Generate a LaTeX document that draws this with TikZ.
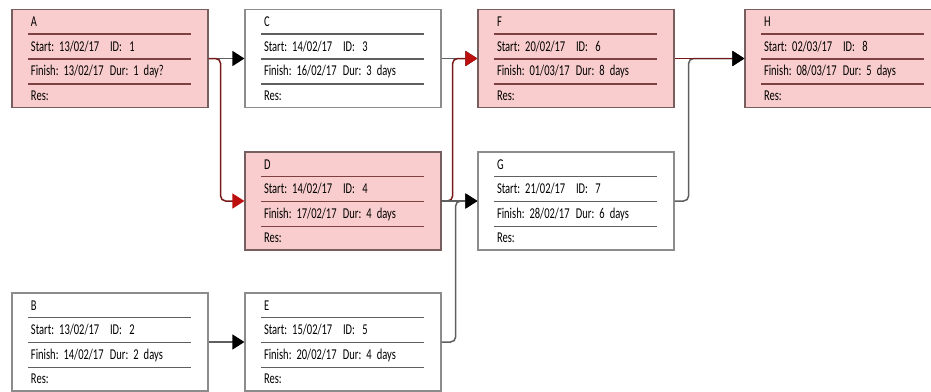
\documentclass[tikz,border=0pt]{standalone}
\usepackage{fontspec}
\usepackage{tikz}
\usetikzlibrary{arrows.meta}
\newfontfamily\taskfont{Carlito}[FakeStretch=0.7]
\definecolor{critfill}{RGB}{249,205,205}
\definecolor{critborder}{RGB}{120,95,95}
\definecolor{critdiv}{RGB}{125,65,65}
\definecolor{plainborder}{RGB}{140,140,140}
\definecolor{plaindiv}{RGB}{95,95,95}
\definecolor{critline}{RGB}{120,25,25}
\definecolor{critred}{RGB}{190,15,15}
\definecolor{linegray}{RGB}{95,95,95}
\newcommand{\taskinfo}[5]{%
  \renewcommand{\arraystretch}{1.633}%
  \begin{tabular}{@{}p{79pt}@{}l@{}}
  #1 & \\
  Start: #2 & ID:\enspace #3\\
  Finish: #4 & Dur: #5\\
  Res: &
  \end{tabular}}
\tikzstyle{crittask} = [rectangle, minimum width=196pt, minimum height=98pt, text width=158pt, inner xsep=19pt, inner ysep=0pt, draw=critborder, line width=1.2pt, fill=critfill, font=\taskfont\fontsize{15}{15}\selectfont\frenchspacing]
\tikzstyle{task} = [crittask, draw=plainborder, fill=white]
\tikzstyle{divider} = [line width=1.4pt]
\tikzstyle{arrow} = [line width=1.5pt, draw=linegray, rounded corners=5pt, -{Triangle[length=12pt,width=15pt,color=black]}]
\tikzstyle{critarrow} = [arrow, draw=critline, -{Triangle[length=12pt,width=15pt,color=critred]}]

\begin{document}
\begin{tikzpicture}[x=1pt, y=1pt, node distance=233pt]
\path [use as bounding box, clip] (-110,58.5) rectangle (821,-332.5);

% Tasks
\node (A) [crittask] {\taskinfo{A}{13/02/17}{1}{13/02/17}{1 day?}};
\node (C) [task, right of=A] {\taskinfo{C}{14/02/17}{3}{16/02/17}{3 days}};
\node (F) [crittask, right of=C] {\taskinfo{F}{20/02/17}{6}{01/03/17}{8 days}};
\node (H) [crittask, right of=F, xshift=34pt] {\taskinfo{H}{02/03/17}{8}{08/03/17}{5 days}};
\node (D) [crittask, node distance=142.5pt, below of=C] {\taskinfo{D}{14/02/17}{4}{17/02/17}{4 days}};
\node (G) [task, right of=D] {\taskinfo{G}{21/02/17}{7}{28/02/17}{6 days}};
\node (E) [task, node distance=141pt, below of=D] {\taskinfo{E}{15/02/17}{5}{20/02/17}{4 days}};
\node (B) [task, left of=E] {\taskinfo{B}{13/02/17}{2}{14/02/17}{2 days}};

% Dividers
\foreach \n/\col in {A/critdiv, B/plaindiv, C/plaindiv, D/critdiv, E/plaindiv, F/critdiv, G/plaindiv, H/critdiv}
  \foreach \y in {25,50,75}
    \draw [divider, draw=\col] ([xshift=17pt, yshift=-\y pt]\n.north west) -- ([xshift=-18pt, yshift=-\y pt]\n.north east);

% Links
\draw [arrow] (A) -- (C);
\draw [critarrow] (A.east) -- ++(12,0) |- (D);
\draw [arrow] (C) -- (F);
\draw [critarrow] (D.east) -- ++(11,0) |- (F);
\draw [arrow] (D) -- (G);
\draw [arrow] (E.east) -- ++(14,0) |- (G);
\draw [arrow] (G.east) -- ++(14,0) |- (H);
\draw [arrow, draw=critline] (F) -- (H);
\draw [arrow] (B) -- (E);

\end{tikzpicture}
\end{document}
